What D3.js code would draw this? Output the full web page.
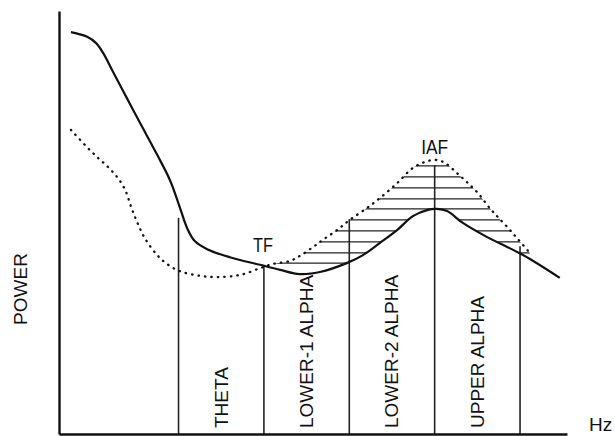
<!DOCTYPE html>
<html>
<head>
<meta charset="utf-8">
<script src="https://cdn.jsdelivr.net/npm/d3@7"></script>
<style>
	html, body { margin: 0; padding: 0; background: #fff; }
	text { font-family: "Liberation Sans", Arial, sans-serif; fill: #111; }
</style>
</head>
<body>
<div id="chart"></div>
<script>
// solid curve: power spectrum (Hz, power)
const solidHz	= [1.48, 1.86, 2.07, 2.25, 2.44, 2.79, 3.10, 3.50, 3.80, 4.03, 4.20, 4.38, 4.67, 5.20, 5.91, 6.38, 6.84, 7.31, 7.94, 8.32, 8.72, 9.12, 9.49, 9.84, 10.05, 10.29, 10.66, 11.22, 12.07, 12.93];
const solidPow	= [95.0, 93.9, 92.4, 89.8, 86.1, 79.4, 73.5, 66.0, 60.0, 53.6, 48.7, 45.6, 43.7, 41.8, 40.0, 38.8, 37.8, 38.3, 40.4, 42.3, 45.2, 48.2, 51.5, 53.0, 53.2, 52.7, 49.9, 46.6, 42.3, 36.9];

// dotted curve
const dotHz		= [1.48, 1.81, 2.09, 2.35, 2.58, 2.75, 2.89, 3.03, 3.21, 3.50, 3.73, 4.03, 4.50, 4.90, 5.44, 5.91, 6.21, 6.61, 6.84, 7.15, 7.38, 7.71, 8.01, 8.41, 8.72, 9.12, 9.49, 9.77, 10.01, 10.24, 10.52, 10.75, 11.01, 11.29, 11.48, 11.72, 11.93, 12.23];
const dotPow	= [71.9, 68.3, 65.5, 63.1, 60.5, 57.7, 53.7, 50.1, 46.3, 42.3, 40.2, 38.5, 37.4, 37.1, 37.6, 39.2, 40.2, 40.9, 42.1, 44.2, 45.9, 48.2, 50.6, 53.4, 55.8, 59.3, 62.9, 64.3, 64.8, 64.1, 61.7, 59.6, 57.0, 53.4, 51.3, 48.7, 46.3, 42.8];

// band boundaries and their line heights
const bandHz	= [4, 6, 8, 10, 12];
const bandTop	= [51.1, 39.7, 50.8, 63.6, 44.4];
const bandNames	= ["THETA", "LOWER-1 ALPHA", "LOWER-2 ALPHA", "UPPER ALPHA"];

// hatch levels between the two curves
const hatchPow	= [63.4, 60.8, 58.2, 55.6, 53.2, 50.6, 48.0, 45.4, 42.8, 40.4];

const canvasWidth	= 615;
const canvasHeight	= 436;

let x = d3.scaleLinear().domain([1.2, 13.1]).range([59, 567]);
let y = d3.scaleLinear().domain([0, 100]).range([434, 11]);

let solid	= solidHz.map((h, i) => ({ hz: h, p: solidPow[i] }));
let dotted	= dotHz.map((h, i) => ({ hz: h, p: dotPow[i] }));

let svg = d3.select("#chart").append("svg")
	.attr("width", canvasWidth)
	.attr("height", canvasHeight);

let curve = d3.curveCatmullRom.alpha(0.5);

let line = d3.line()
	.x((o) => x(o.hz))
	.y((o) => y(o.p))
	.curve(curve);

let defs = svg.append("defs");

// below dotted curve
defs.append("clipPath").attr("id", "below-dot")
	.append("path")
	.attr("d", d3.area().x((o) => x(o.hz)).y0(y(0)).y1((o) => y(o.p)).curve(curve)(dotted));

// above solid curve
defs.append("clipPath").attr("id", "above-solid")
	.append("path")
	.attr("d", d3.area().x((o) => x(o.hz)).y0(y(100)).y1((o) => y(o.p)).curve(curve)(solid));

svg.append("g")
	.attr("clip-path", "url(#below-dot)")
	.append("g")
		.attr("clip-path", "url(#above-solid)")
		.selectAll("line")
		.data(hatchPow)
		.enter().append("line")
			.attr("x1", x(5.9))
			.attr("x2", x(12.3))
			.attr("y1", (o) => y(o))
			.attr("y2", (o) => y(o))
			.attr("stroke", "#222")
			.attr("stroke-width", 1.3);

// band lines
svg.append("g").selectAll("line")
	.data(bandHz)
	.enter().append("line")
		.attr("x1", (o) => x(o))
		.attr("x2", (o) => x(o))
		.attr("y1", y(0))
		.attr("y2", (o, i) => y(bandTop[i]))
		.attr("stroke", "#222")
		.attr("stroke-width", 1.6);

// axes
let xAxis = d3.axisBottom(x).tickValues([]).tickSizeOuter(0);
let yAxis = d3.axisLeft(y).tickValues([]).tickSizeOuter(0);

svg.append("g")
	.attr("transform", "translate(0," + y(0) + ")")
	.call(xAxis)
	.select(".domain").attr("stroke", "#111").attr("stroke-width", 2.4);

svg.append("g")
	.attr("transform", "translate(" + x(1.2) + ",0)")
	.call(yAxis)
	.select(".domain").attr("stroke", "#111").attr("stroke-width", 2.4);

// curves
svg.append("path")
	.datum(dotted)
	.attr("d", line)
	.attr("fill", "none")
	.attr("stroke", "#111")
	.attr("stroke-width", 2.3)
	.attr("stroke-linecap", "round")
	.attr("stroke-dasharray", "0.5,6");

svg.append("path")
	.datum(solid)
	.attr("d", line)
	.attr("fill", "none")
	.attr("stroke", "#111")
	.attr("stroke-width", 2.2);

// band labels
svg.append("g").selectAll("text")
	.data(bandNames)
	.enter().append("text")
		.attr("transform", (o, i) => "translate(" + x((bandHz[i] + bandHz[i + 1]) / 2) + "," + 428 + ") rotate(-90)")
		.attr("dominant-baseline", "central")
		.attr("font-size", 19)
		.text((o) => o);

svg.append("text")
	.attr("transform", "translate(20,289) rotate(-90)")
	.attr("text-anchor", "middle")
	.attr("dominant-baseline", "central")
	.attr("font-size", 19)
	.text("POWER");

svg.append("text")
	.attr("x", 589)
	.attr("y", 431)
	.attr("font-size", 19)
	.text("Hz");

svg.append("text")
	.attr("x", x(6) - 1)
	.attr("y", 252)
	.attr("text-anchor", "middle")
	.attr("font-size", 20)
	.attr("textLength", 20)
	.attr("lengthAdjust", "spacingAndGlyphs")
	.text("TF");

svg.append("text")
	.attr("x", x(10))
	.attr("y", 154)
	.attr("text-anchor", "middle")
	.attr("font-size", 20)
	.attr("textLength", 27)
	.attr("lengthAdjust", "spacingAndGlyphs")
	.text("IAF");
</script>
</body>
</html>
